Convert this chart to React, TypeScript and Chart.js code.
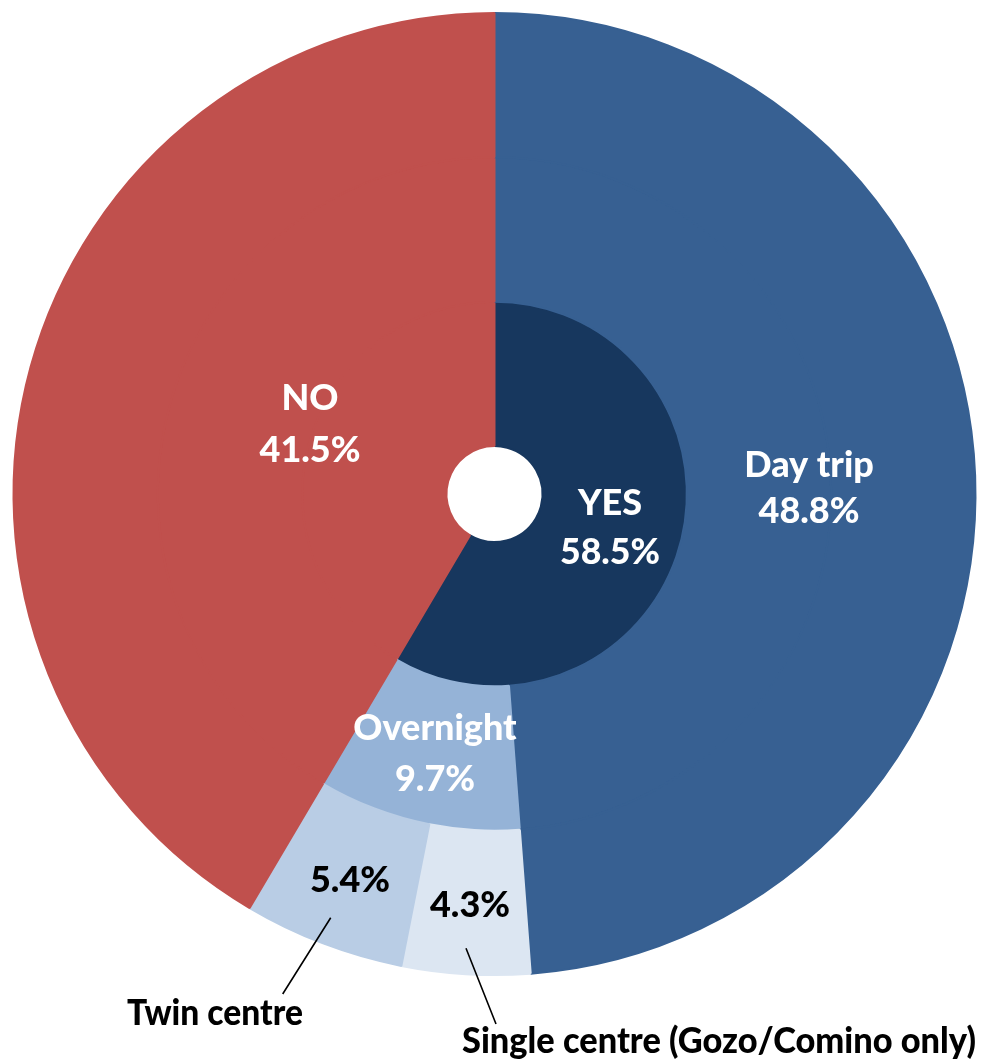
import React, { useEffect, useRef } from "react";
import { Chart, registerables } from "chart.js";

Chart.register(...registerables);

// Inner ring: visited Gozo/Comino?
const answerLabels = ["YES", "NO"];
const answerValues = [58.5, 41.5];

// Middle ring: type of visit
const visitLabels = ["Day trip", "Overnight", "NO"];
const visitValues = [48.8, 9.7, 41.5];

// Outer ring: type of overnight stay
const stayLabels = ["Day trip", "Single centre (Gozo/Comino only)", "Twin centre", "NO"];
const stayValues = [48.8, 4.3, 5.4, 41.5];

const RED = "#C0504D";
const DAY = "#376092";
const YES = "#17375E";
const OVERNIGHT = "#95B3D7";
const TWIN = "#B9CDE5";
const SINGLE = "#DCE6F2";

const FONT = "Lato, 'Open Sans', sans-serif";

const labelPlugin = {
  id: "sunburstLabels",
  afterDraw(chart: any) {
    const ctx = chart.ctx;
    const meta = chart.getDatasetMeta(0);
    const arc = meta.data[0];
    const cx = arc.x;
    const cy = arc.y;
    const pct = (v: number) => `${v.toFixed(1)}%`;
    ctx.save();
    ctx.textAlign = "center";
    ctx.textBaseline = "alphabetic";
    ctx.font = `900 36px ${FONT}`;

    const text = (s: string, dx: number, dy: number, color: string, maxW?: number) => {
      ctx.fillStyle = color;
      if (maxW) ctx.fillText(s, cx + dx, cy + dy, maxW);
      else ctx.fillText(s, cx + dx, cy + dy);
    };

    // NO
    text(answerLabels[1], -184.5, -84, "#FFFFFF");
    text(pct(answerValues[1]), -184.5, -32, "#FFFFFF", 104);
    // YES
    text(answerLabels[0], 115.5, 21, "#FFFFFF");
    text(pct(answerValues[0]), 115.5, 70, "#FFFFFF", 100);
    // Day trip
    text(visitLabels[0], 314.5, -17, "#FFFFFF", 137);
    text(pct(visitValues[0]), 314.5, 29, "#FFFFFF", 104);
    // Overnight
    text(visitLabels[1], -59.5, 246, "#FFFFFF", 174);
    text(pct(visitValues[1]), -59.5, 297, "#FFFFFF", 84);
    // Twin / single values
    text(pct(stayValues[2]), -144.5, 398, "#000000", 84);
    text(pct(stayValues[1]), -24.5, 423, "#000000", 84);
    // Callout labels
    text(stayLabels[2], -279.5, 531, "#000000", 176);
    text(stayLabels[1], 224.5, 559, "#000000", 514);

    // leader lines
    ctx.strokeStyle = "#000000";
    ctx.lineWidth = 1.6;
    ctx.beginPath();
    ctx.moveTo(cx - 163.8, cy + 423.7);
    ctx.lineTo(cx - 211.8, cy + 500);
    ctx.moveTo(cx - 28.5, cy + 454.3);
    ctx.lineTo(cx + 1.5, cy + 530);
    ctx.stroke();
    ctx.restore();
  },
};

export default function App() {
  const ref = useRef<HTMLCanvasElement | null>(null);

  useEffect(() => {
    if (!ref.current) return;
    const solid = (colors: string[]) => ({
      backgroundColor: colors,
      borderColor: colors,
      borderWidth: 2,
      hoverOffset: 0,
    });
    const chart = new Chart(ref.current, {
      type: "doughnut",
      data: {
        labels: stayLabels,
        datasets: [
          { label: "Stay", data: stayValues, ...solid([DAY, SINGLE, TWIN, RED]) },
          { label: "Visit", data: visitValues, ...solid([DAY, OVERNIGHT, RED]) },
          { label: "Answer", data: answerValues, ...solid([YES, RED]) },
        ],
      },
      options: {
        responsive: false,
        maintainAspectRatio: false,
        animation: false,
        radius: 481,
        cutout: "9.98%",
        layout: { padding: { left: 12, right: 5, top: 12, bottom: 85 } },
        plugins: {
          legend: { display: false },
          tooltip: { enabled: false },
        },
        events: [],
      } as any,
      plugins: [labelPlugin],
    });
    return () => chart.destroy();
  }, []);

  return (
    <div style={{ position: "absolute", left: 0, top: 0, width: 982, height: 1061, background: "#FFFFFF" }}>
      <canvas ref={ref} width={982} height={1061} style={{ display: "block", width: 982, height: 1061 }} />
    </div>
  );
}
